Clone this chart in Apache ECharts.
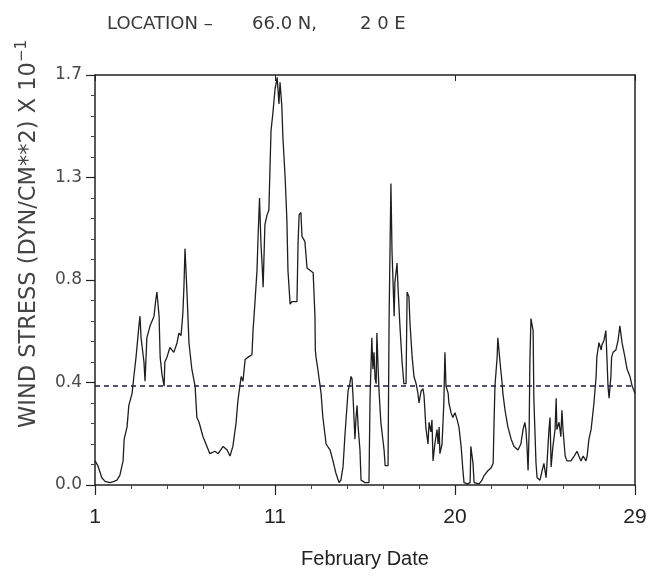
<!DOCTYPE html>
<html>
<head>
<meta charset="utf-8">
<script src="https://cdn.jsdelivr.net/npm/echarts@6/dist/echarts.min.js"></script>
<style>html,body{margin:0;padding:0;background:#fff}#c{width:653px;height:584px}</style>
</head>
<body>
<div id="c"></div>
<script>
// x position in axis steps (0..15), labelled 1, 11, 20, 29 every 5 steps
var timeIdx = [0,0.08,0.19,0.28,0.42,0.53,0.61,0.69,0.78,0.81,0.89,0.94,1.03,1.08,1.14,1.22,1.25,1.28,1.36,1.39,1.44,1.53,1.64,1.69,1.72,1.78,1.81,1.86,1.92,1.94,2.00,2.08,2.19,2.22,2.28,2.33,2.39,2.44,2.47,2.50,2.56,2.61,2.69,2.78,2.83,2.89,3.00,3.11,3.19,3.33,3.42,3.56,3.67,3.75,3.83,3.92,3.97,4.06,4.11,4.17,4.25,4.36,4.39,4.44,4.50,4.53,4.57,4.61,4.64,4.67,4.72,4.78,4.83,4.86,4.89,4.94,5.00,5.06,5.08,5.11,5.14,5.19,5.22,5.28,5.33,5.36,5.42,5.47,5.61,5.64,5.67,5.72,5.75,5.83,5.89,5.97,6.06,6.11,6.12,6.14,6.19,6.28,6.33,6.42,6.53,6.61,6.69,6.78,6.83,6.89,6.94,7.03,7.08,7.11,7.14,7.17,7.22,7.25,7.28,7.31,7.36,7.39,7.50,7.61,7.64,7.69,7.72,7.75,7.78,7.81,7.83,7.86,7.89,7.94,8.03,8.06,8.14,8.17,8.19,8.22,8.25,8.31,8.33,8.36,8.39,8.42,8.47,8.53,8.58,8.64,8.67,8.72,8.75,8.81,8.86,8.92,8.97,9.00,9.06,9.11,9.14,9.19,9.25,9.28,9.31,9.33,9.36,9.39,9.44,9.50,9.53,9.56,9.58,9.64,9.69,9.72,9.75,9.81,9.83,9.89,9.94,10.00,10.06,10.11,10.17,10.22,10.25,10.36,10.42,10.44,10.50,10.53,10.67,10.75,10.81,10.92,11.00,11.06,11.08,11.11,11.17,11.19,11.25,11.31,11.33,11.39,11.47,11.56,11.64,11.75,11.83,11.89,11.94,11.97,12.00,12.03,12.06,12.08,12.11,12.17,12.19,12.25,12.28,12.36,12.42,12.47,12.53,12.56,12.61,12.64,12.67,12.72,12.78,12.81,12.83,12.89,12.94,12.97,13.00,13.06,13.11,13.22,13.31,13.39,13.44,13.50,13.56,13.64,13.67,13.72,13.78,13.81,13.86,13.92,13.94,14.00,14.06,14.08,14.14,14.19,14.22,14.25,14.28,14.33,14.35,14.39,14.47,14.53,14.58,14.64,14.72,14.78,14.86,14.92,15.00];
var stress = [0.10,0.08,0.03,0.015,0.01,0.015,0.02,0.04,0.10,0.19,0.24,0.33,0.38,0.45,0.53,0.66,0.70,0.61,0.51,0.43,0.61,0.66,0.70,0.77,0.80,0.70,0.53,0.46,0.41,0.51,0.53,0.57,0.55,0.55,0.59,0.63,0.62,0.71,0.82,0.98,0.78,0.59,0.48,0.41,0.28,0.26,0.20,0.16,0.13,0.14,0.13,0.16,0.145,0.12,0.16,0.26,0.35,0.45,0.43,0.52,0.53,0.54,0.64,0.75,0.89,1.03,1.19,1.00,0.92,0.82,1.08,1.12,1.14,1.31,1.47,1.54,1.64,1.69,1.69,1.58,1.67,1.57,1.44,1.28,1.10,0.89,0.75,0.76,0.76,1.00,1.12,1.13,1.03,1.01,0.90,0.89,0.88,0.70,0.56,0.53,0.48,0.38,0.28,0.17,0.145,0.10,0.05,0.01,0.02,0.075,0.20,0.39,0.42,0.45,0.44,0.36,0.19,0.28,0.33,0.24,0.145,0.02,0.01,0.01,0.36,0.61,0.48,0.55,0.44,0.42,0.63,0.50,0.39,0.26,0.145,0.08,0.08,0.70,0.92,1.25,0.97,0.70,0.84,0.88,0.92,0.81,0.66,0.51,0.42,0.42,0.80,0.78,0.67,0.53,0.45,0.42,0.38,0.34,0.39,0.40,0.37,0.24,0.17,0.26,0.26,0.22,0.27,0.10,0.17,0.23,0.17,0.24,0.13,0.17,0.34,0.55,0.41,0.38,0.34,0.30,0.28,0.30,0.27,0.24,0.16,0.06,0.01,0.005,0.01,0.16,0.09,0.01,0.005,0.02,0.04,0.06,0.07,0.09,0.23,0.41,0.53,0.61,0.51,0.42,0.38,0.31,0.24,0.19,0.16,0.145,0.17,0.23,0.26,0.23,0.16,0.06,0.23,0.51,0.69,0.64,0.36,0.09,0.03,0.02,0.06,0.09,0.03,0.10,0.23,0.28,0.075,0.16,0.23,0.36,0.23,0.26,0.20,0.31,0.23,0.12,0.10,0.10,0.12,0.14,0.12,0.10,0.12,0.10,0.12,0.19,0.23,0.27,0.34,0.45,0.53,0.59,0.56,0.58,0.60,0.64,0.53,0.41,0.36,0.45,0.53,0.55,0.56,0.60,0.66,0.59,0.53,0.48,0.45,0.41,0.38];
var xTickLabels = ['1','11','20','29'];
var yTickLabels = ['0.0','0.4','0.8','1.3','1.7'];
var meanStress = 0.41;
var titleParts = ['LOCATION \u2013', '66.0 N,', '2 0 E'];
var yName = 'WIND STRESS (DYN/CM**2) X 10';
var xName = 'February Date';

var chart = echarts.init(document.getElementById('c'), null, {renderer: 'canvas'});
var pts = timeIdx.map(function (t, i) { return [t, stress[i]]; });
var axisCol = '#222';
var titleX = [107, 252, 360];
var titleGraphics = titleParts.map(function (s, i) {
  return {type: 'text', x: titleX[i], y: 24,
    style: {text: s, fontSize: 18, fill: '#3a3a3a', fontFamily: 'DejaVu Sans', verticalAlign: 'middle'}};
});
chart.setOption({
  backgroundColor: '#fff',
  animation: false,
  grid: {left: 95, right: 18, top: 75, bottom: 99, containLabel: false},
  xAxis: [{
    type: 'value', min: 0, max: 15, interval: 5,
    axisLine: {show: true, onZero: false, lineStyle: {color: axisCol, width: 1.5}},
    axisTick: {show: true, length: 10, lineStyle: {color: axisCol, width: 1.2}},
    minorTick: {show: true, splitNumber: 5, length: 4, lineStyle: {color: '#444', width: 1}},
    splitLine: {show: false},
    axisLabel: {
      margin: 22, fontSize: 21, color: '#222', fontFamily: 'Liberation Sans',
      formatter: function (v) { return xTickLabels[Math.round(v / 5)]; }
    },
    name: xName, nameLocation: 'middle', nameGap: 64,
    nameTextStyle: {fontSize: 20, color: '#222', fontFamily: 'Liberation Sans'}
  }, {
    type: 'value', min: 0, max: 15, interval: 5, position: 'top',
    axisLine: {show: true, onZero: false, lineStyle: {color: axisCol, width: 1.5}},
    axisTick: {show: true, inside: true, length: 6, lineStyle: {color: axisCol}},
    axisLabel: {show: false}, splitLine: {show: false}
  }],
  yAxis: [{
    type: 'value', min: 0, max: 1.7, interval: 0.425,
    axisLine: {show: true, onZero: false, lineStyle: {color: axisCol, width: 1.5}},
    axisTick: {show: true, length: 9, lineStyle: {color: axisCol, width: 1.2}},
    minorTick: {show: true, splitNumber: 5, length: 4, lineStyle: {color: '#444', width: 1}},
    splitLine: {show: false},
    axisLabel: {
      margin: 13, fontSize: 17, color: '#4a4a4a', fontFamily: 'DejaVu Sans',
      formatter: function (v) { return yTickLabels[Math.round(v / 0.425)]; }
    }
  }, {
    type: 'value', min: 0, max: 1.7, interval: 0.425, position: 'right',
    axisLine: {show: true, onZero: false, lineStyle: {color: axisCol, width: 1.5}},
    axisTick: {show: false}, axisLabel: {show: false}, splitLine: {show: false}
  }],
  series: [{
    type: 'line', data: pts, showSymbol: false, symbol: 'none',
    lineStyle: {color: '#1e1e1e', width: 1.3},
    z: 3,
    markLine: {
      silent: true, symbol: ['none', 'none'], label: {show: false},
      lineStyle: {color: '#1a1a44', type: [5, 4], width: 1.6},
      data: [{yAxis: meanStress}]
    }
  }],
  graphic: titleGraphics.concat([{
    type: 'text', x: 29, y: 234, rotation: Math.PI / 2,
    style: {
      text: '{a|' + yName + '}{s|\u22121}',
      align: 'center', verticalAlign: 'middle',
      rich: {
        a: {fontSize: 22.5, fill: '#444', fontFamily: 'DejaVu Sans'},
        s: {fontSize: 15, fill: '#444', fontFamily: 'DejaVu Sans', verticalAlign: 'top', padding: [0, 0, 13, 0]}
      }
    }
  }])
});
</script>
</body>
</html>
